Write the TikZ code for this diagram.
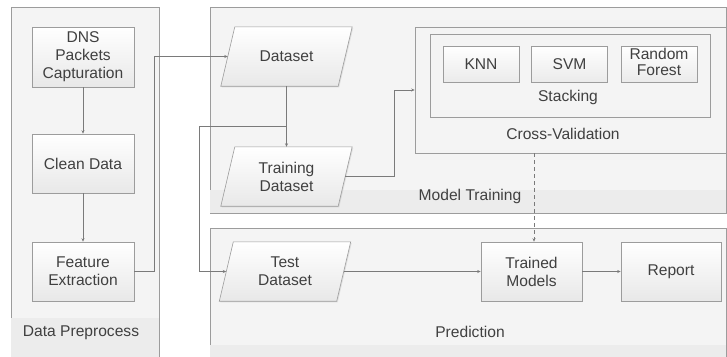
\documentclass[tikz,border=0pt]{standalone}
\usepackage{fontspec}
\setmainfont{Liberation Sans}
\usetikzlibrary{arrows.meta,shadows,calc}
\definecolor{txt}{HTML}{404040}
\definecolor{edge}{HTML}{9C9C9C}
\definecolor{lane}{HTML}{F4F4F4}
\definecolor{band}{HTML}{ECECEC}
\definecolor{line}{HTML}{7A7A7A}
\pgfdeclarelayer{lanes}
\pgfdeclarelayer{shapes}
\pgfsetlayers{lanes,shapes,main}
\tikzset{
  every node/.style={font=\fontsize{15.6}{18}\selectfont, text=txt, align=center},
  container/.style={draw=edge, fill=lane, line width=0.7pt},
  bandfill/.style={fill=band, draw=none},
  box/.style={rectangle, draw=edge, line width=0.6pt, top color=white, bottom color=black!9,
    drop shadow={opacity=0.18, shadow xshift=1pt, shadow yshift=-1.2pt}, inner sep=1pt},
  smallbox/.style={rectangle, draw=edge, line width=0.6pt, top color=white, bottom color=black!8,
    minimum width=76pt, minimum height=36pt, inner sep=0pt},
  frame/.style={rectangle, draw=edge, line width=0.6pt, fill=lane},
  para/.style={rectangle, minimum width=117pt, minimum height=59pt, inner sep=1pt},
  parashape/.style={draw=edge, line width=0.6pt, top color=white, bottom color=black!9,
    drop shadow={opacity=0.18, shadow xshift=1pt, shadow yshift=-1.2pt}},
  conn/.style={draw=line, line width=0.6pt},
  arr/.style={conn, -{Stealth[length=3.5pt,width=3pt]}},
  lbl/.style={inner sep=0pt}
}
\newcommand\drawpara[1]{%
  \path[parashape] ($(#1.south west)+(-7,0)$) -- ($(#1.north west)+(7,0)$)
    -- ($(#1.north east)+(7,0)$) -- ($(#1.south east)+(-7,0)$) -- cycle;}
\begin{document}
\begin{tikzpicture}[x=1pt,y=-1pt]
\useasboundingbox (0,0) rectangle (727,356);
\begin{pgfonlayer}{lanes}
\draw[container] (11,7) rectangle (159,362);
\fill[bandfill] (11.4,318) rectangle (158.6,362);
\draw[container] (210,7) rectangle (726,213);
\fill[bandfill] (210.4,190) rectangle (725.6,212.6);
\draw[container] (210,228) rectangle (726,362);
\fill[bandfill] (210.4,345) rectangle (725.6,362);
\end{pgfonlayer}
\node[lbl] (lpre) at (81,333) {Data Preprocess};
\node[lbl] (ltrain) at (470,196) {Model Training};
\node[lbl] (lpred) at (470,332) {Prediction};
% cross validation / stacking frames
\node[frame, minimum width=311pt, minimum height=126pt] (cv) at (570.5,90) {};
\node[lbl] (lcv) at (563,134) {Cross-Validation};
\node[frame, minimum width=280pt, minimum height=83pt] (stack) at (570,75.5) {};
\node[lbl] (lstack) at (568,97) {Stacking};
\node[smallbox] (knn) at (481,64) {KNN};
\node[smallbox] (svm) at (569.5,64) {SVM};
\node[smallbox] (rf) at (659,64) {\raisebox{4pt}{\begin{tabular}{@{}c@{}}Random\\[-1.5pt]Forest\end{tabular}}};
% preprocess boxes
\node[box, minimum width=102pt, minimum height=60pt] (dns) at (83,57) {DNS\\Packets\\Capturation};
\node[box, minimum width=102pt, minimum height=59pt] (clean) at (83,163.5) {Clean Data};
\node[box, minimum width=102pt, minimum height=59pt] (feat) at (83,271.5) {Feature\\Extraction};
% datasets
\node[para] (dataset) at (286.5,56.5) {Dataset};
\node[para] (train) at (286.5,176.5) {Training\\Dataset};
\node[para] (test) at (285,271.5) {Test\\Dataset};
\begin{pgfonlayer}{shapes}
\drawpara{dataset}
\drawpara{train}
\drawpara{test}
\end{pgfonlayer}
% prediction boxes
\node[box, minimum width=101pt, minimum height=59pt] (trained) at (531.5,271.5) {Trained\\Models};
\node[box, minimum width=100pt, minimum height=59pt] (report) at (671,271.5) {Report};
% connectors
\draw[arr] (dns.south) -- (clean.north);
\draw[arr] (clean.south) -- (feat.north);
\draw[arr] (feat.east) -- ++(20,0) |- (dataset.west);
\draw[arr] (dataset.south) -- (train.north);
\coordinate (j2) at (199,126);
\draw[conn] (dataset.south |- j2) -- (j2);
\draw[arr] (j2) |- (test.west);
\draw[arr] (train.east) -- (train.east -| 394,0) |- (cv.west);
\draw[arr, dashed, dash pattern=on 4pt off 3pt] (cv.south -| 534,0) -- (534,0 |- trained.north);
\draw[arr] (test.east) -- (trained.west);
\draw[arr] (trained.east) -- (report.west);
\end{tikzpicture}
\end{document}
